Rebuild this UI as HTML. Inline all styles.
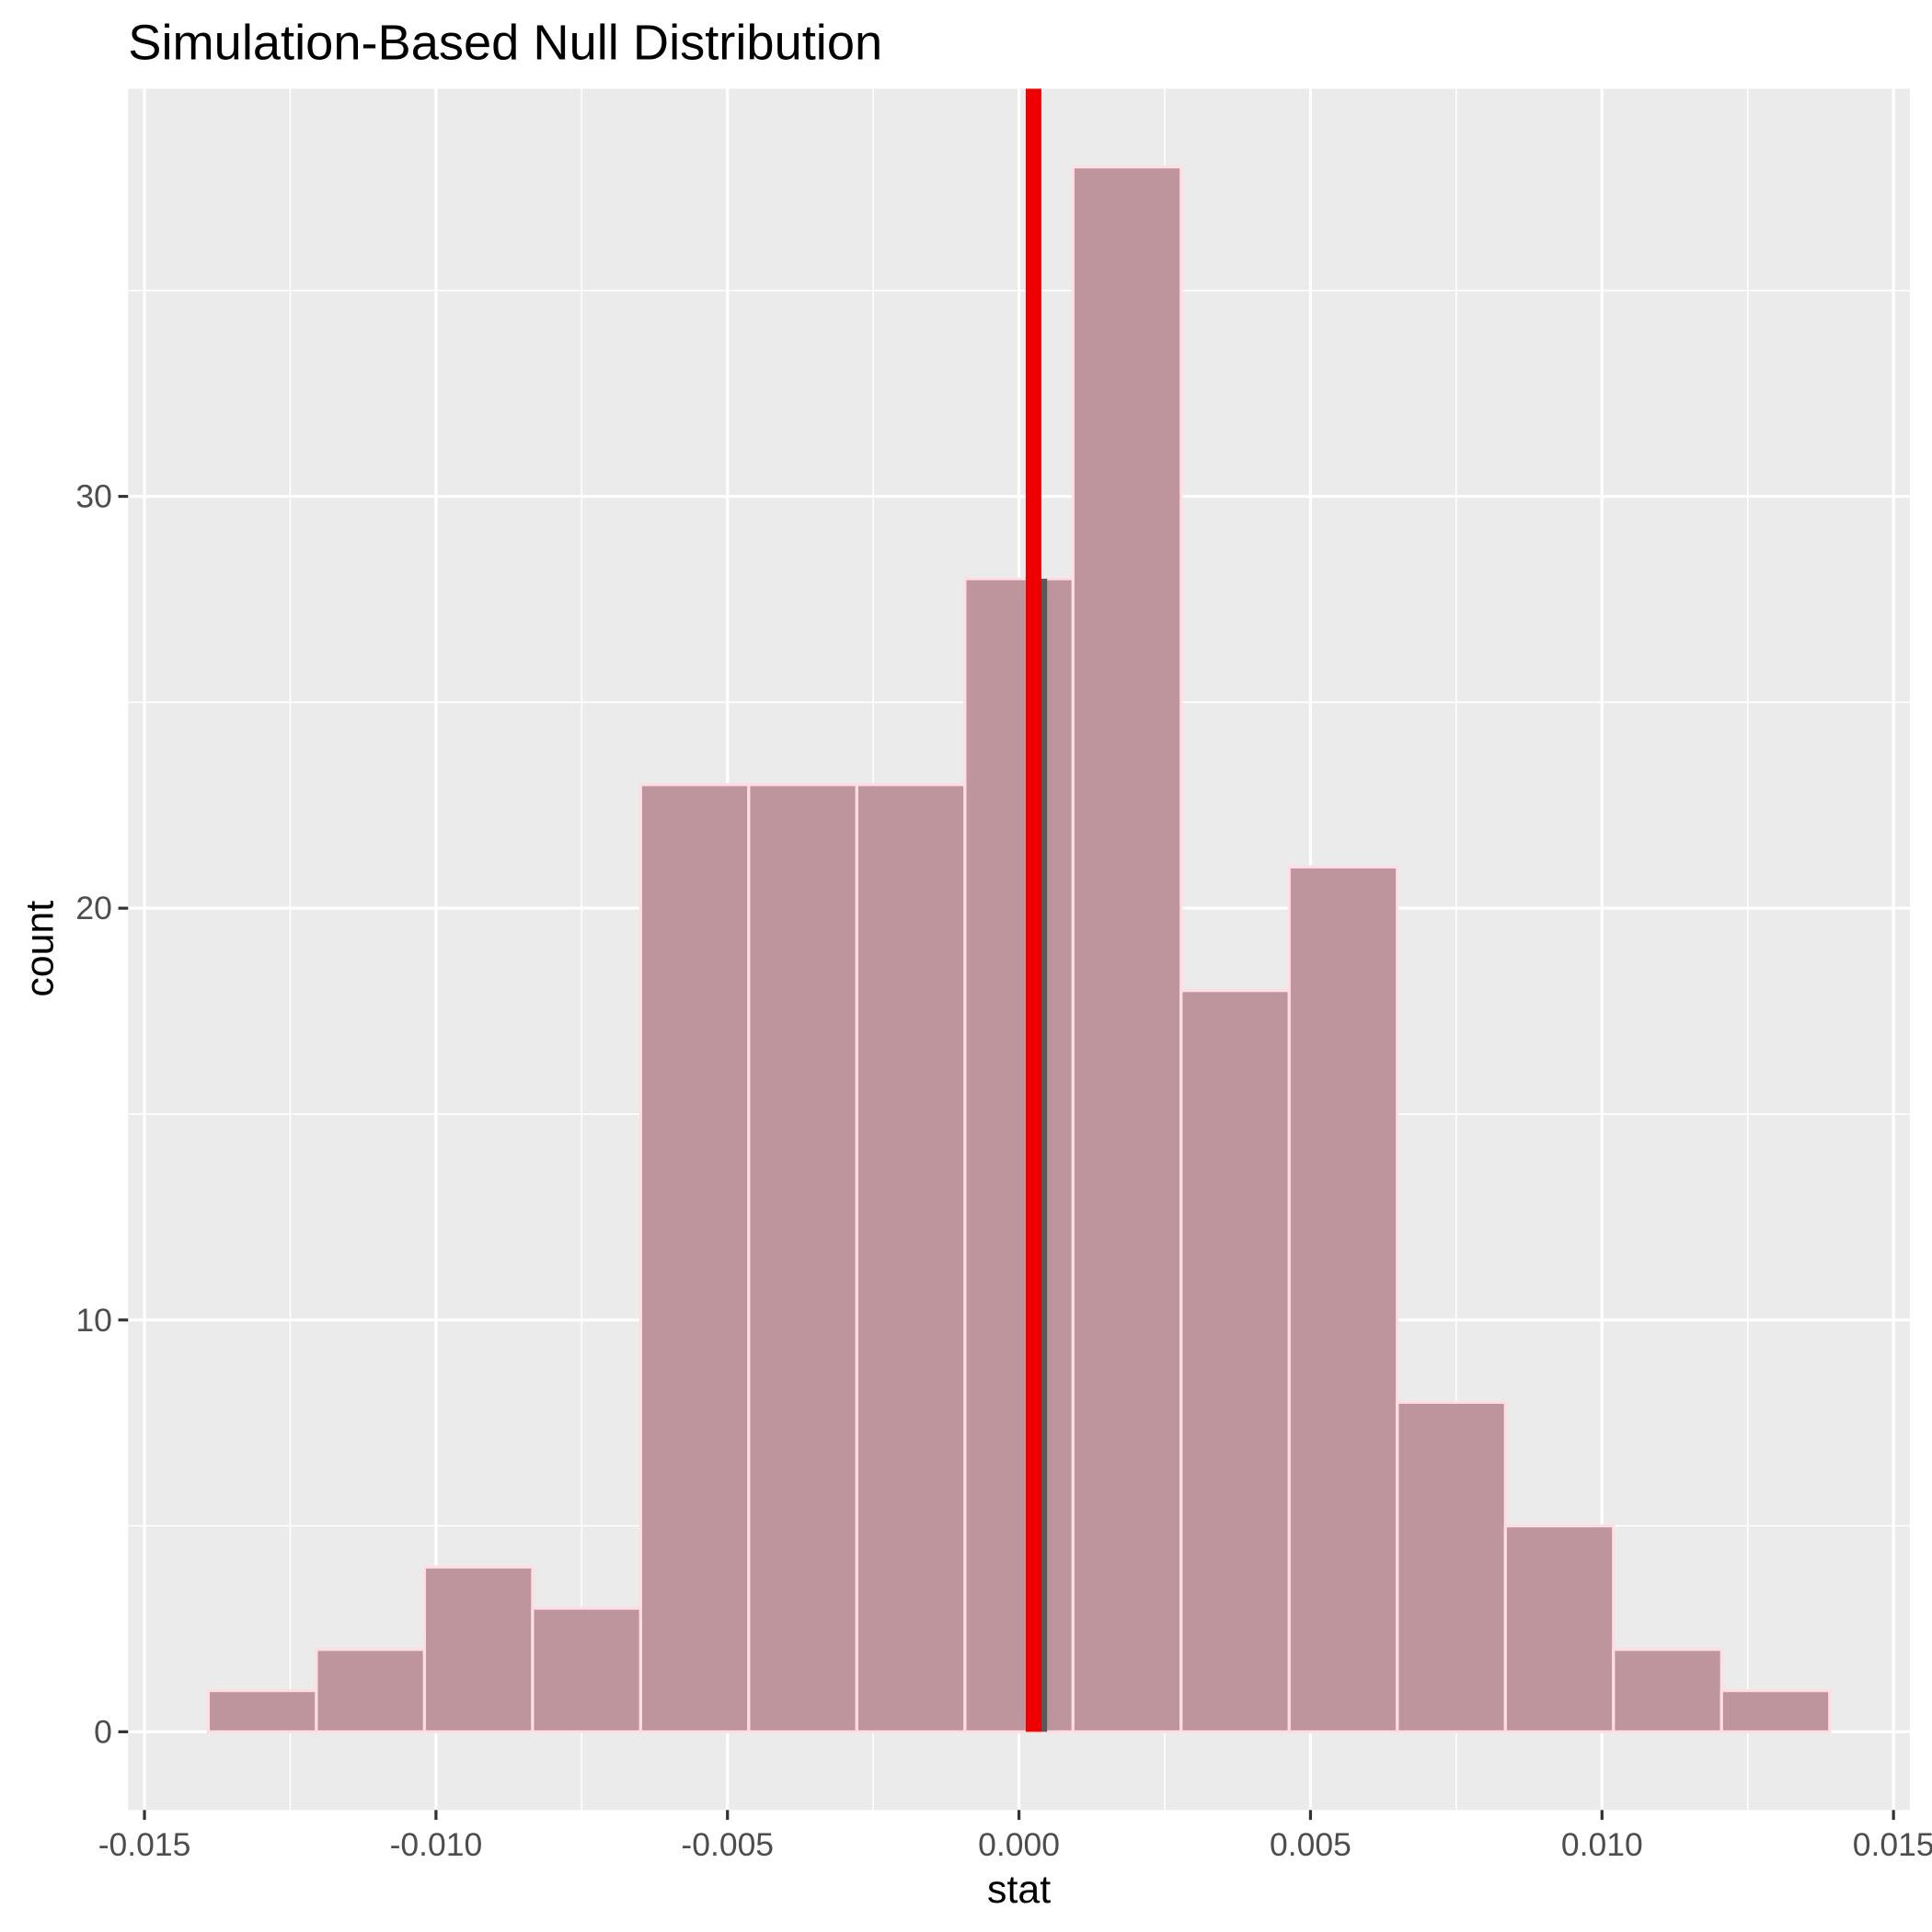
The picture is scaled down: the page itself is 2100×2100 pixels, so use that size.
<!DOCTYPE html>
<html><head><meta charset="utf-8"><style>
html,body{margin:0;padding:0;background:#fff;}
svg{display:block;font-family:"Liberation Sans",Arial,sans-serif;}
</style></head><body>
<svg id="chart" width="2100" height="2100" viewBox="0 0 1568 1568" xmlns="http://www.w3.org/2000/svg">
<rect width="1568" height="1568" fill="#fff"/>
<text x="104" y="48" font-size="40.5" fill="#000">Simulation-Based Null Distribution</text>
<rect x="104" y="72" width="1446" height="1397" fill="#ebebeb"/>
<g id="grid"></g>
<g id="bars"></g>
<g id="marks"></g>
<g id="axes"></g>
<text x="827" y="1544" font-size="32" text-anchor="middle" fill="#000">stat</text>
<text transform="translate(43,770) rotate(-90)" font-size="32" text-anchor="middle" fill="#000">count</text>
</svg>
<script>
const binWidth = 0.001854;
const binCenters = [-7,-6,-5,-4,-3,-2,-1,0,1,2,3,4,5,6,7];
const counts = [1,2,4,3,23,23,23,28,38,18,21,8,5,2,1];
const xTicks = [-0.015,-0.010,-0.005,0.000,0.005,0.010,0.015];
const xTickLabels = ["-0.015","-0.010","-0.005","0.000","0.005","0.010","0.015"];
const yTicks = [0,10,20,30];
const yTickLabels = ["0","10","20","30"];
const observedStat = [0.00025];

const NS = "http://www.w3.org/2000/svg";
const X0 = 104, X1 = 1550, Y0 = 72, Y1 = 1469;
const xMin = -0.01528, xMax = 0.01528, yMin = -1.9, yMax = 39.9;
const xs = v => X0 + (v - xMin) / (xMax - xMin) * (X1 - X0);
const ys = v => Y1 - (v - yMin) / (yMax - yMin) * (Y1 - Y0);
function mk(tag, attrs, parent) {
  const e = document.createElementNS(NS, tag);
  for (const k in attrs) e.setAttribute(k, attrs[k]);
  document.getElementById(parent).appendChild(e);
  return e;
}
for (let i = 0; i < xTicks.length - 1; i++) {
  const m = (xTicks[i] + xTicks[i + 1]) / 2;
  const l = mk('line', {x1: xs(m), x2: xs(m), y1: Y0, y2: Y1, stroke: '#fff', 'stroke-width': 1.2}, 'grid');
  
  
}
const yMinor = yTicks.map(v => v + 5).concat([yTicks[0] - 5]).filter(v => v > yMin && v < yMax);
yMinor.forEach(m => {
  const l = mk('line', {x1: X0, x2: X1, y1: ys(m), y2: ys(m), stroke: '#fff', 'stroke-width': 1.2}, 'grid');
  
  
});
xTicks.forEach(v => {
  const l = mk('line', {x1: xs(v), x2: xs(v), y1: Y0, y2: Y1, stroke: '#fff', 'stroke-width': 2.4}, 'grid');
  
  
});
yTicks.forEach(v => {
  const l = mk('line', {x1: X0, x2: X1, y1: ys(v), y2: ys(v), stroke: '#fff', 'stroke-width': 2.4}, 'grid');
  
  
});
binCenters.forEach((c, i) => {
  const a = xs((c - 0.5) * binWidth), b = xs((c + 0.5) * binWidth);
  const r = mk('rect', {x: a, y: ys(counts[i]), width: b - a, height: ys(0) - ys(counts[i]), fill: '#bf959d', stroke: '#ffdde4', 'stroke-width': 2.4}, 'bars');
  
  
});
observedStat.forEach(v => {
  const idx = binCenters.findIndex(c => v >= (c - 0.5) * binWidth && v < (c + 0.5) * binWidth);
  const s = mk('rect', {x: xs(v) + 6, y: ys(counts[idx]), width: 5, height: ys(0) - ys(counts[idx]), fill: '#595959'}, 'marks');
  
  
  const l = mk('rect', {x: xs(v) - 6.3, y: Y0, width: 12.6, height: ys(0) - Y0, fill: '#ee0000'}, 'marks');
  
  
});
xTicks.forEach((v, i) => {
  const t = mk('line', {x1: xs(v), x2: xs(v), y1: Y1, y2: Y1 + 8, stroke: '#333', 'stroke-width': 2.4}, 'axes');
  
  
  const tx = mk('text', {x: xs(v), y: Y1 + 37, 'font-size': 26.5, 'text-anchor': 'middle', fill: '#4d4d4d'}, 'axes');
  tx.textContent = xTickLabels[i];
  
  
});
yTicks.forEach((v, i) => {
  const t = mk('line', {x1: X0 - 8, x2: X0, y1: ys(v), y2: ys(v), stroke: '#333', 'stroke-width': 2.4}, 'axes');
  
  
  const tx = mk('text', {x: X0 - 13, y: ys(v) + 9, 'font-size': 26.5, 'text-anchor': 'end', fill: '#4d4d4d'}, 'axes');
  tx.textContent = yTickLabels[i];
  
  
});
</script>
</body></html>
